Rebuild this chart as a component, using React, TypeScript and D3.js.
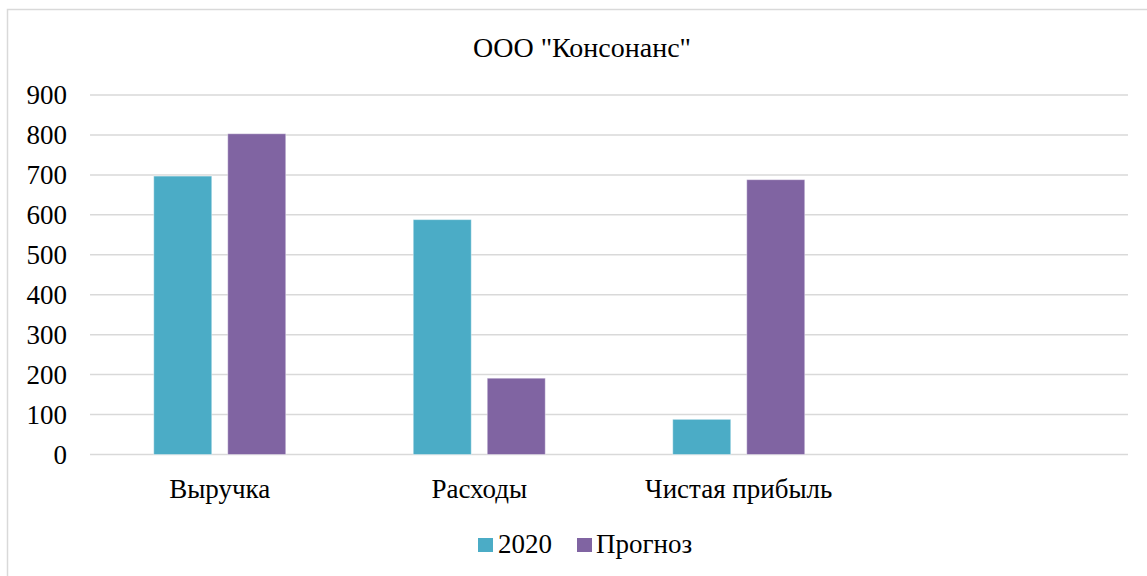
import React from "react";
import * as d3 from "d3";

const title = 'ООО "Консонанс"';
const categories = ["Выручка", "Расходы", "Чистая прибыль", ""];
const seriesNames = ["2020", "Прогноз"];
const values2020 = [697, 588, 88, null];
const valuesForecast = [803, 191, 688, null];
const yTicks = [0, 100, 200, 300, 400, 500, 600, 700, 800, 900];
const colors = ["#4bacc6", "#8064a2"];

const W = 1147;
const H = 576;
const FONT = "'Times New Roman', 'Liberation Serif', serif";
const txt = { fontFamily: FONT };

export default function App() {
  const left = 90;
  const right = 1128;
  const top = 95;
  const bottom = 454.5;

  const y = d3.scaleLinear().domain([0, 900]).range([bottom, top]);
  const x0 = d3.scaleBand<string>().domain(categories.map((c, i) => String(i))).range([left, right]).padding(0);
  const groupW = 132;
  const x1 = d3.scaleBand<string>().domain(seriesNames).range([0, groupW]).paddingInner(16 / 74).paddingOuter(0);
  const series = [values2020, valuesForecast];

  return (
    <svg width={W} height={H} style={{ position: "absolute", left: 0, top: 0, background: "#fff", fontFamily: FONT }}>
      <rect x={7.5} y={9.5} width={1160} height={600} fill="#fff" stroke="#d9d9d9" strokeWidth={1.5} />
      <text x={582} y={57} textAnchor="middle" fontSize={28} fill="#000" style={txt}>{title}</text>
      {yTicks.map((t) => (
        <g key={t}>
          <line x1={left} x2={right} y1={y(t)} y2={y(t)} stroke="#d9d9d9" strokeWidth={1.5} />
          <text x={67} y={y(t) + 9} textAnchor="end" fontSize={27} fill="#000" style={txt}>{t}</text>
        </g>
      ))}
      {categories.map((c, i) => {
        const gx = (x0(String(i)) as number) + (x0.bandwidth() - groupW) / 2;
        return (
          <g key={i}>
            {series.map((s, si) => {
              const v = s[i];
              if (v == null) return null;
              return (
                <rect
                  key={si}
                  x={gx + (x1(seriesNames[si]) as number)}
                  y={y(v)}
                  width={x1.bandwidth()}
                  height={y(0) - y(v)}
                  fill={colors[si]}
                  stroke="#fff"
                  strokeOpacity={0.4}
                  strokeWidth={1}
                />
              );
            })}
            <text x={(x0(String(i)) as number) + x0.bandwidth() / 2} y={498} textAnchor="middle" fontSize={27} fill="#000" style={txt}>{c}</text>
          </g>
        );
      })}
      <g>
        <rect x={478} y={538} width={15} height={14} fill={colors[0]} />
        <text x={498} y={553} fontSize={27} fill="#000" style={txt}>{seriesNames[0]}</text>
        <rect x={577} y={538} width={15} height={14} fill={colors[1]} />
        <text x={596} y={553} fontSize={27} fill="#000" style={txt}>{seriesNames[1]}</text>
      </g>
    </svg>
  );
}
